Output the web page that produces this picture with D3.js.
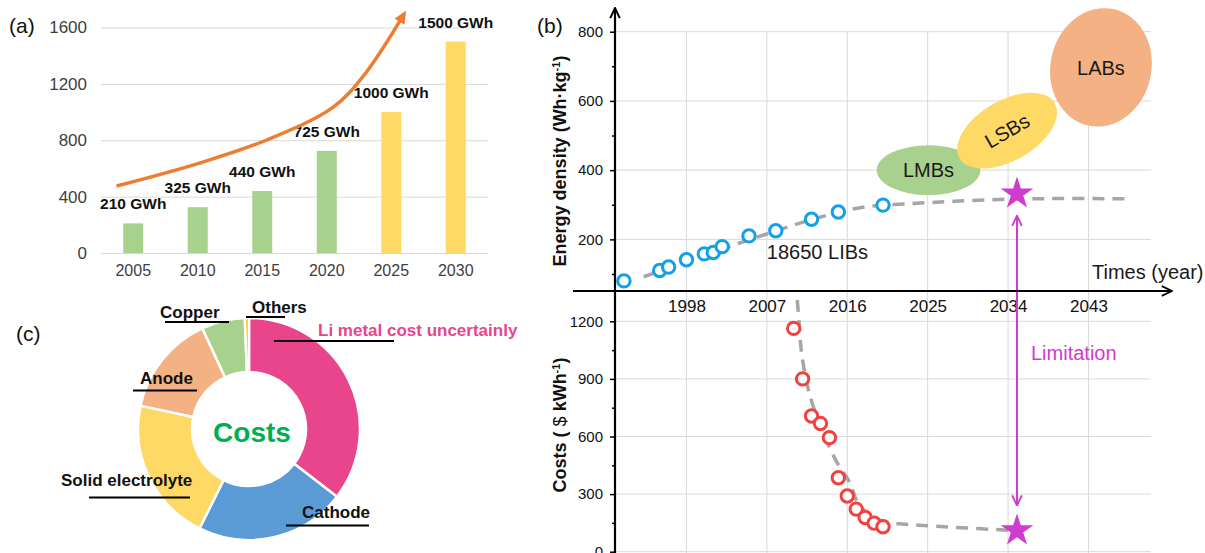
<!DOCTYPE html>
<html>
<head>
<meta charset="utf-8">
<script src="https://cdn.jsdelivr.net/npm/d3@7"></script>
<style>
body { margin: 0; background: #fff; }
svg { display: block; font-family: "Liberation Sans", Arial, sans-serif; }
</style>
</head>
<body>
<svg id="fig" width="1205" height="553"></svg>
<script>
// DATA ------------------------------------

// (a) capacity bars
const capYears = ['2005', '2010', '2015', '2020', '2025', '2030'];
const capValues = [210, 325, 440, 725, 1000, 1500];
const capForecast = [false, false, false, false, true, true];
const capTicks = [0, 400, 800, 1200, 1600];
const growthYears = [2003.7, 2010.2, 2015.3, 2020.5, 2023, 2026];
const growthValues = [475, 640, 800, 1035, 1275, 1696];

// (c) cost shares, clockwise from 12 o'clock
const costParts = ['Li metal cost uncertainly', 'Cathode', 'Solid electrolyte', 'Anode', 'Copper', 'Others'];
const costShares = [35.4, 21.9, 21.0, 14.7, 6.3, 0.6];

// (b) energy density and cost of cells
const libYears = [1991, 1995, 1996, 1998, 2000, 2001, 2002, 2005, 2008, 2012, 2015, 2020];
const libEnergy = [80, 110, 120, 141, 158, 162, 179, 210, 225, 258, 279, 299];
const energyTrendYears = [1993.2, 1998, 2002, 2006, 2010.7, 2015, 2018, 2023, 2028, 2034, 2040, 2047.2];
const energyTrendValues = [92, 135, 172, 207, 247, 278, 294, 303, 310, 316, 318, 317];
const costYears = [2010, 2011, 2012, 2013, 2014, 2015, 2016, 2017, 2018, 2019, 2020];
const costValues = [1163, 900, 707, 668, 594, 385, 290, 222, 178, 149, 130];
const costTrendYears = [2010.4, 2010.6, 2010.9, 2011.8, 2013.3, 2014.8, 2016.3, 2017.2, 2019, 2021.3, 2024, 2028, 2034];
const costTrendValues = [1311, 1200, 1030, 816, 620, 469, 358, 254, 175, 148, 138, 127, 112];
const yearTicks = [1998, 2007, 2016, 2025, 2034, 2043];
const energyTicks = [200, 400, 600, 800];
const costTicks = [0, 300, 600, 900, 1200];
const bubbleNames = ['LMBs', 'LSBs', 'LABs'];
const bubbleYear = [2025.1, 2033.9, 2044.4];
const bubbleEnergy = [400, 514, 697];
const bubbleYearSpan = [5.8, 6.15, 5.65];
const bubbleEnergySpan = [72, 87, 172];
const limitYear = 2035;
const limitEnergy = 332;
const limitCost = 110;

// STYLE -----------------------------------
const FONT = '"Liberation Sans", Arial, sans-serif';
const partColor = {
    'Li metal cost uncertainly': '#e8458d',
    'Cathode': '#5b9bd5',
    'Solid electrolyte': '#ffd966',
    'Anode': '#f4b183',
    'Copper': '#a9d18e',
    'Others': '#ffc000'
};
const bubbleColor = { LMBs: '#a9d18e', LSBs: '#ffd966', LABs: '#f4b183' };
const bubbleTilt = { LMBs: 0, LSBs: -30, LABs: 12 };
const magenta = '#cf3ccf';

const svg = d3.select('#fig');
const defs = svg.append('defs');

function marker(id, color, open, size) {
    const m = defs.append('marker')
        .attr('id', id)
        .attr('viewBox', '0 0 10 10')
        .attr('refX', open ? 9.5 : 7)
        .attr('refY', 5)
        .attr('markerUnits', 'userSpaceOnUse')
        .attr('markerWidth', size)
        .attr('markerHeight', size)
        .attr('orient', 'auto-start-reverse');
    if (open) {
        m.append('path').attr('d', 'M1,1 L9.5,5 L1,9')
            .attr('fill', 'none').attr('stroke', color).attr('stroke-width', 1.6);
    } else {
        m.append('path').attr('d', 'M0,0.5 L10,5 L0,9.5 Z').attr('fill', color);
    }
}
marker('arrOrange', '#ed7d31', false, 13);
marker('arrBlack', '#000', true, 12);
marker('arrMag', magenta, true, 12);

function panelLabel(text, x, y) {
    svg.append('text').attr('x', x).attr('y', y)
        .attr('font-size', 21).attr('fill', '#111')
        .text(text);
}

// PANEL (a) -------------------------------
const xA = d3.scaleBand().domain(capYears).range([101, 488]);
const yA = d3.scaleLinear().domain([0, 1600]).range([253, 27.5]);
const half = xA.bandwidth() / 2;
const yearA = d3.scaleLinear()
    .domain([+capYears[0], +capYears[capYears.length - 1]])
    .range([xA(capYears[0]) + half, xA(capYears[capYears.length - 1]) + half]);

const gA = svg.append('g');

gA.append('g')
    .attr('transform', 'translate(101,0)')
    .call(d3.axisLeft(yA).tickValues(capTicks).tickSize(-387).tickPadding(14).tickFormat(d3.format('d')))
    .attr('font-family', FONT).attr('font-size', 17)
    .call(g => g.select('.domain').remove())
    .call(g => g.selectAll('line').attr('stroke', '#d9d9d9'))
    .call(g => g.selectAll('text').attr('fill', '#404040'));

gA.append('g')
    .attr('transform', 'translate(0,253)')
    .call(d3.axisBottom(xA).tickSize(0).tickPadding(12))
    .attr('font-family', FONT).attr('font-size', 16)
    .call(g => g.select('.domain').remove())
    .call(g => g.selectAll('text').attr('fill', '#404040'));

const barW = xA.bandwidth() * 0.31;
gA.selectAll('rect.bar')
    .data(capYears)
    .enter()
    .append('rect')
    .attr('class', 'bar')
    .attr('x', d => xA(d) + half - barW / 2)
    .attr('y', (d, i) => yA(capValues[i]))
    .attr('width', barW)
    .attr('height', (d, i) => yA(0) - yA(capValues[i]))
    .attr('fill', (d, i) => capForecast[i] ? '#ffd966' : '#a9d18e');

gA.selectAll('text.cap')
    .data(capYears)
    .enter()
    .append('text')
    .attr('class', 'cap')
    .attr('x', d => xA(d) + half)
    .attr('y', (d, i) => yA(capValues[i]) - 14)
    .attr('text-anchor', 'middle')
    .attr('font-size', 15.5)
    .attr('font-weight', 'bold')
    .attr('fill', '#111')
    .text((d, i) => capValues[i] + ' GWh');

const growthLine = d3.line()
    .x(d => yearA(d[0]))
    .y(d => yA(d[1]))
    .curve(d3.curveCatmullRom);

gA.append('path')
    .datum(growthYears.map((y, i) => [y, growthValues[i]]))
    .attr('d', growthLine)
    .attr('fill', 'none')
    .attr('stroke', '#ed7d31')
    .attr('stroke-width', 3.5)
    .attr('marker-end', 'url(#arrOrange)');

panelLabel('(a)', 9, 33);

// PANEL (c) -------------------------------
const pieCx = 249, pieCy = 429;
const pie = d3.pie().sort(null).value((d, i) => costShares[i]);
const arc = d3.arc().innerRadius(57).outerRadius(111);

const gC = svg.append('g').attr('transform', `translate(${pieCx},${pieCy})`);
gC.selectAll('path')
    .data(pie(costParts))
    .enter()
    .append('path')
    .attr('d', arc)
    .attr('fill', d => partColor[d.data])
    .attr('stroke', '#fff')
    .attr('stroke-width', 2.5);

gC.append('text')
    .attr('x', 3).attr('y', 13)
    .attr('text-anchor', 'middle')
    .attr('font-size', 28)
    .attr('font-weight', 'bold')
    .attr('fill', '#00b050')
    .text('Costs');

// label placement: text start, baseline, leader line
const partLabel = {
    'Copper': { x: 160, y: 317.5, l: [165, 229, 322] },
    'Others': { x: 252, y: 312.5, l: [246, 285, 317] },
    'Li metal cost uncertainly': { x: 318, y: 336, l: [274, 394, 341] },
    'Anode': { x: 140, y: 384, l: [133, 197, 390.5] },
    'Solid electrolyte': { x: 61, y: 486, l: [89, 190, 497.5] },
    'Cathode': { x: 302, y: 518, l: [286, 369, 525.5] }
};
costParts.forEach(p => {
    const L = partLabel[p];
    svg.append('line')
        .attr('x1', L.l[0]).attr('x2', L.l[1])
        .attr('y1', L.l[2]).attr('y2', L.l[2])
        .attr('stroke', '#000').attr('stroke-width', 2);
    svg.append('text')
        .attr('x', L.x).attr('y', L.y)
        .attr('font-size', 17)
        .attr('font-weight', 'bold')
        .attr('fill', p.startsWith('Li') ? partColor[p] : '#111')
        .text(p);
});

panelLabel('(c)', 16, 341);

// PANEL (b) -------------------------------
const xB = d3.scaleLinear().domain([1990, 2050]).range([615, 1151]);
const yE = d3.scaleLinear().domain([0, 800]).range([308.6, 31.7]);
const yC = d3.scaleLinear().domain([0, 1200]).range([551.7, 321.3]);
const axisY = 291;

const gB = svg.append('g');
const grid = gB.append('g').attr('stroke', '#d9d9d9').attr('stroke-width', 1);

grid.selectAll('line.v')
    .data(yearTicks).enter().append('line')
    .attr('x1', d => xB(d)).attr('x2', d => xB(d))
    .attr('y1', yE(800)).attr('y2', 553);
grid.selectAll('line.e')
    .data(energyTicks).enter().append('line')
    .attr('x1', xB(1990)).attr('x2', xB(2050))
    .attr('y1', d => yE(d)).attr('y2', d => yE(d));
grid.selectAll('line.c')
    .data(costTicks).enter().append('line')
    .attr('x1', xB(1990)).attr('x2', xB(2050))
    .attr('y1', d => yC(d)).attr('y2', d => yC(d));

function styleAxis(g, size) {
    g.attr('font-family', FONT).attr('font-size', size);
    g.select('.domain').remove();
    g.selectAll('text').attr('fill', '#111');
    g.selectAll('line').attr('stroke', '#000').attr('stroke-width', 1.5);
}

gB.append('g').attr('transform', `translate(${xB(1990)},0)`)
    .call(d3.axisLeft(yE).tickValues(energyTicks).tickSize(5).tickPadding(7))
    .call(g => styleAxis(g, 15));
gB.append('g').attr('transform', `translate(${xB(1990)},0)`)
    .call(d3.axisLeft(yE).tickValues(energyTicks.map(v => v - 100)).tickSize(3).tickFormat(''))
    .call(g => styleAxis(g, 15));
gB.append('g').attr('transform', `translate(${xB(1990)},0)`)
    .call(d3.axisLeft(yC).tickValues(costTicks).tickSize(5).tickPadding(7).tickFormat(d3.format('d')))
    .call(g => styleAxis(g, 15));
gB.append('g').attr('transform', `translate(${xB(1990)},0)`)
    .call(d3.axisLeft(yC).tickValues(costTicks.slice(1).map(v => v - 150)).tickSize(3).tickFormat(''))
    .call(g => styleAxis(g, 15));
gB.append('g').attr('transform', `translate(0,${axisY})`)
    .call(d3.axisBottom(xB).tickValues(yearTicks).tickSize(0).tickPadding(9).tickFormat(d3.format('d')))
    .call(g => styleAxis(g, 17));

// trend lines
const trendE = d3.line().x(d => xB(d[0])).y(d => yE(d[1])).curve(d3.curveCatmullRom);
const trendC = d3.line().x(d => xB(d[0])).y(d => yC(d[1])).curve(d3.curveCatmullRom);

gB.append('path')
    .datum(energyTrendYears.map((y, i) => [y, energyTrendValues[i]]))
    .attr('d', trendE)
    .attr('fill', 'none').attr('stroke', '#a6a6a6')
    .attr('stroke-width', 3.5).attr('stroke-dasharray', '12 8');
gB.append('path')
    .datum(costTrendYears.map((y, i) => [y, costTrendValues[i]]))
    .attr('d', trendC)
    .attr('fill', 'none').attr('stroke', '#a6a6a6')
    .attr('stroke-width', 3.5).attr('stroke-dasharray', '12 8');

// data points
gB.selectAll('circle.lib')
    .data(libYears).enter().append('circle')
    .attr('class', 'lib')
    .attr('cx', d => xB(d))
    .attr('cy', (d, i) => yE(libEnergy[i]))
    .attr('r', 6.2)
    .attr('fill', '#fff').attr('stroke', '#12a0ea').attr('stroke-width', 3);
gB.selectAll('circle.cost')
    .data(costYears).enter().append('circle')
    .attr('class', 'cost')
    .attr('cx', d => xB(d))
    .attr('cy', (d, i) => yC(costValues[i]))
    .attr('r', 6.2)
    .attr('fill', '#fff').attr('stroke', '#f2413f').attr('stroke-width', 3);

// battery bubbles
bubbleNames.forEach((n, i) => {
    const cx = xB(bubbleYear[i]);
    const cy = yE(bubbleEnergy[i]);
    const rx = xB(bubbleYear[i] + bubbleYearSpan[i]) - cx;
    const ry = yE(bubbleEnergy[i] - bubbleEnergySpan[i]) - cy;
    gB.append('ellipse')
        .attr('transform', `translate(${cx},${cy}) rotate(${bubbleTilt[n]})`)
        .attr('rx', rx).attr('ry', ry).attr('fill', bubbleColor[n]);
    gB.append('text')
        .attr('transform', `translate(${cx},${cy}) rotate(${n === 'LSBs' ? bubbleTilt[n] : 0})`)
        .attr('text-anchor', 'middle').attr('dy', '0.36em')
        .attr('font-size', 20).attr('fill', '#1a1a1a')
        .text(n);
});

// limitation arrow and stars
const lx = xB(limitYear);
gB.append('line')
    .attr('x1', lx).attr('x2', lx)
    .attr('y1', yE(limitEnergy) + 22).attr('y2', yC(limitCost) - 25)
    .attr('stroke', magenta).attr('stroke-width', 2)
    .attr('marker-start', 'url(#arrMag)').attr('marker-end', 'url(#arrMag)');

const star = d3.symbol().type(d3.symbolStar).size(330);
[yE(limitEnergy), yC(limitCost)].forEach(py => {
    gB.append('path').attr('d', star())
        .attr('transform', `translate(${lx},${py})`)
        .attr('fill', magenta);
});

gB.append('text')
    .attr('x', lx + 14).attr('y', yC(1000))
    .attr('font-size', 20).attr('fill', magenta)
    .text('Limitation');

gB.append('text')
    .attr('x', xB(2007)).attr('y', yE(164)).attr('dy', '0.36em')
    .attr('font-size', 20).attr('fill', '#1a1a1a')
    .text('18650 LIBs');

gB.append('text')
    .attr('x', 1092).attr('y', 279)
    .attr('font-size', 20).attr('fill', '#1a1a1a')
    .text('Times (year)');

// axis titles
const tE = gB.append('text')
    .attr('transform', 'translate(566,161) rotate(-90)')
    .attr('text-anchor', 'middle')
    .attr('font-size', 18).attr('font-weight', 'bold').attr('fill', '#111');
tE.append('tspan').text('Energy density (Wh\u00b7kg');
tE.append('tspan').attr('baseline-shift', 'super').attr('font-size', 11).text('-1');
tE.append('tspan').text(')');

const tC = gB.append('text')
    .attr('transform', 'translate(566,425) rotate(-90)')
    .attr('text-anchor', 'middle')
    .attr('font-size', 18).attr('font-weight', 'bold').attr('fill', '#111');
tC.append('tspan').text('Costs ( ');
tC.append('tspan').attr('font-weight', 'normal').text('$');
tC.append('tspan').text('  kWh');
tC.append('tspan').attr('baseline-shift', 'super').attr('font-size', 11).text('-1');
tC.append('tspan').text(')');

// main axes with arrows
gB.append('line')
    .attr('x1', xB(1990)).attr('x2', xB(1990))
    .attr('y1', 553).attr('y2', 8)
    .attr('stroke', '#000').attr('stroke-width', 2.2)
    .attr('marker-end', 'url(#arrBlack)');
gB.append('line')
    .attr('x1', 573).attr('x2', 1172)
    .attr('y1', axisY).attr('y2', axisY)
    .attr('stroke', '#000').attr('stroke-width', 2.2)
    .attr('marker-end', 'url(#arrBlack)');

panelLabel('(b)', 537, 33);
</script>
</body>
</html>
